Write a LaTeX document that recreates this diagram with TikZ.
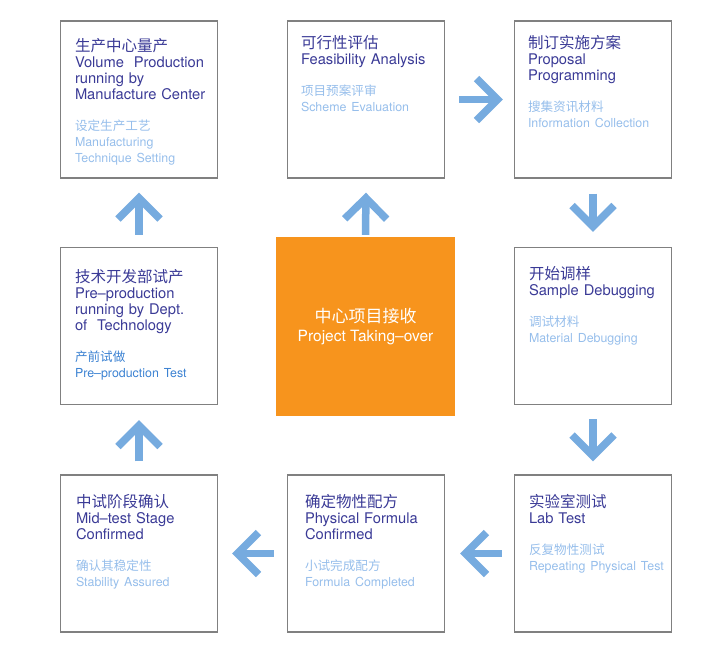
\documentclass[tikz,border=0pt]{standalone}
\usepackage{fontspec}
\setmainfont{TeX Gyre Heros}
\newfontfamily\cjk{Noto Sans CJK SC}
\usetikzlibrary{arrows.meta}
\definecolor{boxgray}{RGB}{128,128,128}
\definecolor{titleblue}{RGB}{58,58,150}
\definecolor{subblue}{RGB}{150,190,235}
\definecolor{testblue}{RGB}{60,130,210}
\definecolor{arrowblue}{RGB}{118,171,223}
\definecolor{takeorange}{RGB}{247,148,29}
\newcommand{\hd}[1]{{\cjk\fontsize{15.5}{16}\selectfont #1}}
\newcommand{\sh}[1]{{\cjk\fontsize{12.6}{16}\selectfont #1}}
\newcommand{\sm}{\fontsize{12.4}{16}\selectfont}

\begin{document}
\begin{tikzpicture}[x=1pt, y=1pt,
    stage/.style={draw=boxgray, line width=1.4pt, minimum size=157pt, inner sep=0pt},
    txt/.style={anchor=north west, inner sep=0pt, text width=150pt, align=left,
        font=\fontsize{14.7}{16}\selectfont, text=titleblue},
    flow/.style={arrowblue, line width=7.5pt, -{Straight Barb[length=21pt, width=42pt]}}]
    \useasboundingbox (0,0) rectangle (720,-662);

    % boxes
    \node[stage] (vol) at (139,-99.5) {};
    \node[stage] (feas) at (366,-99.5) {};
    \node[stage] (prop) at (593,-99.5) {};
    \node[stage] (pre) at (139,-326) {};
    \node[stage] (sample) at (593,-326) {};
    \node[stage] (mid) at (139,-553.5) {};
    \node[stage] (formula) at (366,-553.5) {};
    \node[stage] (lab) at (593,-553.5) {};
    \node[fill=takeorange, minimum size=179pt, inner sep=0pt, text=white, align=center]
        (take) at (365.5,-326.5)
        {{\cjk\fontsize{17}{21}\selectfont 中心项目接收}\\[5pt]
         {\fontsize{15.5}{16}\selectfont Project Taking--over}};

    % texts
    \node[txt] at ([xshift=15,yshift=-18]vol.north west)
        {\hd{生产中心量产}\\ Volume~~Production\\ running by\\ Manufacture Center\\[15pt]
         {\color{subblue}\sh{设定生产工艺}\\ \sm Manufacturing\\ Technique Setting}};
    \node[txt] at ([xshift=14,yshift=-15]feas.north west)
        {\hd{可行性评估}\\ Feasibility Analysis\\[15pt]
         {\color{subblue}\sh{项目预案评审}\\ \sm Scheme Evaluation}};
    \node[txt] at ([xshift=14,yshift=-15]prop.north west)
        {\hd{制订实施方案}\\ Proposal\\ Programming\\[15pt]
         {\color{subblue}\sh{搜集资讯材料}\\ \sm Information Collection}};
    \node[txt] at ([xshift=15,yshift=-22]pre.north west)
        {\hd{技术开发部试产}\\ Pre--production\\ running by Dept.\\ of~~Technology\\[15pt]
         {\color{testblue}\sh{产前试做}\\ \sm Pre--production Test}};
    \node[txt] at ([xshift=15,yshift=-19]sample.north west)
        {\hd{开始调样}\\ Sample Debugging\\[15pt]
         {\color{subblue}\sh{调试材料}\\ \sm Material Debugging}};
    \node[txt] at ([xshift=16,yshift=-20]mid.north west)
        {\hd{中试阶段确认}\\ Mid--test Stage\\ Confirmed\\[15pt]
         {\color{subblue}\sh{确认其稳定性}\\ \sm Stability Assured}};
    \node[txt] at ([xshift=18,yshift=-20]formula.north west)
        {\hd{确定物性配方}\\ Physical Formula\\ Confirmed\\[15pt]
         {\color{subblue}\sh{小试完成配方}\\ \sm Formula Completed}};
    \node[txt] at ([xshift=15,yshift=-20]lab.north west)
        {\hd{实验室测试}\\ Lab Test\\[15pt]
         {\color{subblue}\sh{反复物性测试}\\ \sm Repeating Physical Test}};

    % arrows
    \draw[flow] ([yshift=2]take.north) -- ([yshift=-14]feas.south);
    \draw[flow] ([xshift=14]feas.east) -- ([xshift=-11]prop.west);
    \draw[flow] ([yshift=-15]prop.south) -- ([yshift=15]sample.north);
    \draw[flow] ([yshift=-14]sample.south) -- ([yshift=13]lab.north);
    \draw[flow] ([xshift=-12]lab.west) -- ([xshift=15]formula.east);
    \draw[flow] ([xshift=-13]formula.west) -- ([xshift=14]mid.east);
    \draw[flow] ([yshift=13]mid.north) -- ([yshift=-15]pre.south);
    \draw[flow] ([yshift=12]pre.north) -- ([yshift=-14]vol.south);
\end{tikzpicture}
\end{document}
